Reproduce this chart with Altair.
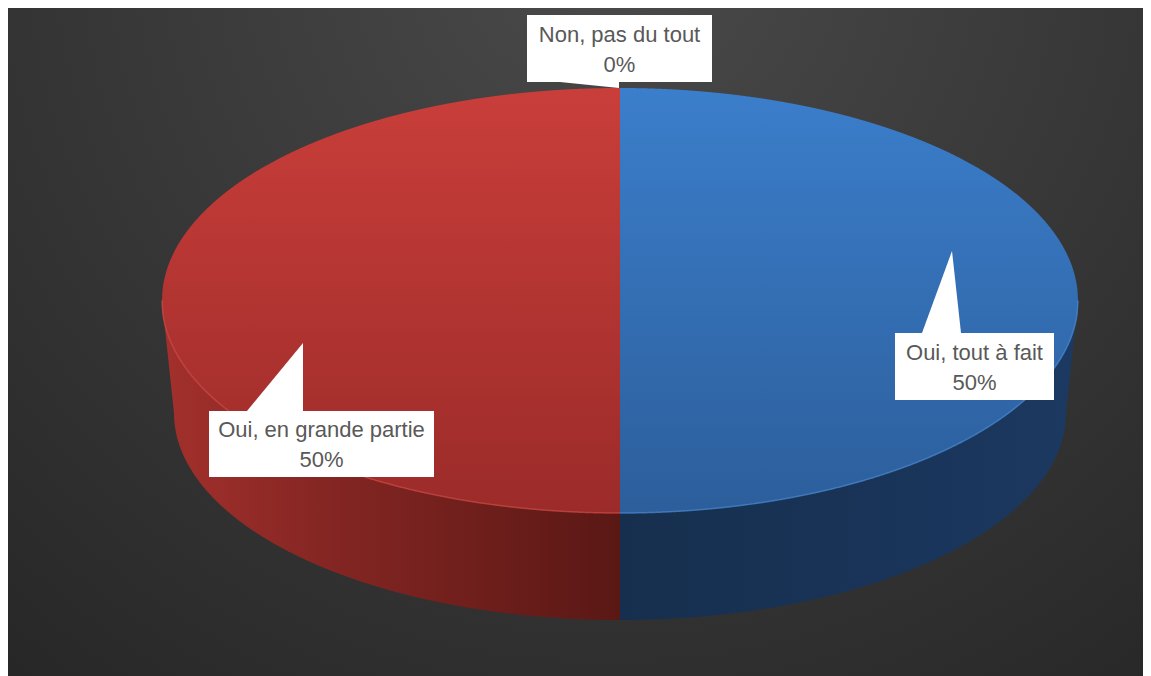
import math
import altair as alt
import pandas as pd

# ---------------- data ----------------
categories = ["Oui, tout à fait", "Oui, en grande partie", "Non, pas du tout"]
values = [50, 50, 0]
percent_labels = ["50%", "50%", "0%"]

# ---------------- layout (pixels of the page) ----------------
W, H = 1135, 668
X0, Y0 = 8, 8
CX, CY, A, B = 620, 300.5, 458, 212.5      # top ellipse
A2, B2, CY2 = 446, 207, 413                # bottom ellipse (perspective)

label_cx = [974.5, 321.5, 619.5]
label_cy = [366.5, 444.0, 48.5]
label_w = [159, 225, 185]
label_h = [67, 66, 67]
tip_x = [952, 303, 619]
tip_y = [251, 343, 88]
base_x1 = [922, 247, 560]
base_x2 = [961, 303, 619]
base_y = [333, 411, 82]

FONT = "Liberation Sans"
TEXT_COLOR = "#595959"
FONT_SIZE = 22

xs = alt.Scale(domain=[X0, X0 + W], nice=False, zero=False)
ys = alt.Scale(domain=[Y0, Y0 + H], nice=False, zero=False, reverse=True)

total = sum(values)
split_x = CX + A * math.sin(2 * math.pi * values[0] / total)
ranges = {categories[0]: (split_x, CX + A), categories[1]: (CX - A, split_x)}


def grad_v(c0, c1):
    return alt.LinearGradient(gradient="linear", x1=0, x2=0, y1=0, y2=1,
                              stops=[alt.GradientStop(color=c0, offset=0),
                                     alt.GradientStop(color=c1, offset=1)])


def grad_h(stops):
    return alt.LinearGradient(gradient="linear", x1=0, x2=1, y1=0, y2=0,
                              stops=[alt.GradientStop(color=c, offset=o) for o, c in stops])


sqrt_u = "sqrt(max(0, 1 - datum.u*datum.u))"
top_upper = f"{CY} - {B}*{sqrt_u}"
top_lower = f"{CY} + {B}*{sqrt_u}"
side_lower = (f"abs(datum.x-{CX}) <= {A2} ? {CY2} + {B2}*sqrt(max(0, 1 - pow((datum.x-{CX})/{A2},2)))"
              f" : {CY} + ({A} - abs(datum.x-{CX}))/({A}-{A2})*({CY2}-{CY})")


def face(x_from, x_to, y_expr, y2_expr, color):
    return alt.Chart(alt.sequence(0, 1.0005, 0.001, as_="t")).transform_calculate(
        x=f"{x_from} + datum.t*({x_to - x_from})"
    ).transform_calculate(
        u=f"(datum.x - {CX})/{A}"
    ).transform_calculate(
        y=y_expr, y2=y2_expr
    ).mark_area(color=color).encode(
        x=alt.X("x:Q", scale=xs, axis=None),
        y=alt.Y("y:Q", scale=ys, axis=None, stack=None),
        y2="y2:Q",
    )


def rim(x_from, x_to, color):
    return alt.Chart(alt.sequence(0, 1.0005, 0.002, as_="t")).transform_calculate(
        x=f"{x_from} + datum.t*({x_to - x_from})"
    ).transform_calculate(
        u=f"(datum.x - {CX})/{A}"
    ).transform_calculate(
        y=top_lower
    ).mark_line(color=color, strokeWidth=1.5, opacity=0.7).encode(
        x=alt.X("x:Q", scale=xs, axis=None),
        y=alt.Y("y:Q", scale=ys, axis=None),
    )


bg = alt.Chart(pd.DataFrame({"k": [0]})).mark_rect(
    color=alt.RadialGradient(gradient="radial", x1=0.53, y1=0.15, r1=0, x2=0.53, y2=0.15, r2=0.85,
                             stops=[alt.GradientStop(color="#4a4a4a", offset=0),
                                    alt.GradientStop(color="#262626", offset=1)])
).encode(x=alt.value(0), x2=alt.value(W), y=alt.value(0), y2=alt.value(H))

bx0, bx1 = ranges[categories[0]]
rx0, rx1 = ranges[categories[1]]

red_side = face(rx0, rx1, top_lower, side_lower,
                grad_h([(0, "#a3302c"), (0.35, "#852623"), (1, "#5a1815")]))
blue_side = face(bx0, bx1, top_lower, side_lower,
                 grad_h([(0, "#162f4e"), (0.7, "#1a355b"), (1, "#1c3961")]))
red_top = face(rx0, rx1, top_upper, top_lower, grad_v("#c93e3a", "#9b2b29"))
blue_top = face(bx0, bx1, top_upper, top_lower, grad_v("#3b7ecb", "#2c5e9b"))
red_rim = rim(rx0, rx1, "#d24a45")
blue_rim = rim(bx0, bx1, "#4a8ad4")

# labels
lab = pd.DataFrame({
    "cat": categories, "pct": percent_labels,
    "cx": label_cx, "cy": label_cy, "w": label_w, "h": label_h,
})
boxes = alt.Chart(lab).transform_calculate(
    x1="datum.cx - datum.w/2", x2="datum.cx + datum.w/2",
    y1="datum.cy - datum.h/2", y2="datum.cy + datum.h/2",
).mark_rect(color="white").encode(
    x=alt.X("x1:Q", scale=xs, axis=None), x2="x2:Q",
    y=alt.Y("y1:Q", scale=ys, axis=None), y2="y2:Q",
)

tri_layers = []
for i in range(len(categories)):
    df = pd.DataFrame({
        "x": [base_x1[i], tip_x[i], base_x2[i]],
        "y": [base_y[i], tip_y[i], base_y[i]],
        "yb": [base_y[i]] * 3,
    })
    tri_layers.append(
        alt.Chart(df).mark_area(color="white").encode(
            x=alt.X("x:Q", scale=xs, axis=None),
            y=alt.Y("y:Q", scale=ys, axis=None, stack=None),
            y2="yb:Q",
        )
    )

line1 = alt.Chart(lab).transform_calculate(ty="datum.cy - 14").mark_text(
    font=FONT, fontSize=FONT_SIZE, color=TEXT_COLOR, baseline="middle", align="center"
).encode(x=alt.X("cx:Q", scale=xs, axis=None), y=alt.Y("ty:Q", scale=ys, axis=None), text="cat:N")
line2 = alt.Chart(lab).transform_calculate(ty="datum.cy + 16").mark_text(
    font=FONT, fontSize=FONT_SIZE, color=TEXT_COLOR, baseline="middle", align="center"
).encode(x=alt.X("cx:Q", scale=xs, axis=None), y=alt.Y("ty:Q", scale=ys, axis=None), text="pct:N")

chart = alt.layer(
    bg, red_side, blue_side, red_top, blue_top, red_rim, blue_rim, *tri_layers, boxes, line1, line2
).properties(
    width=W, height=H, padding=0, autosize=alt.AutoSizeParams(type="none")
).configure_view(stroke=None)

chart.save("out.html", embed_options={"renderer": "svg", "actions": False})
